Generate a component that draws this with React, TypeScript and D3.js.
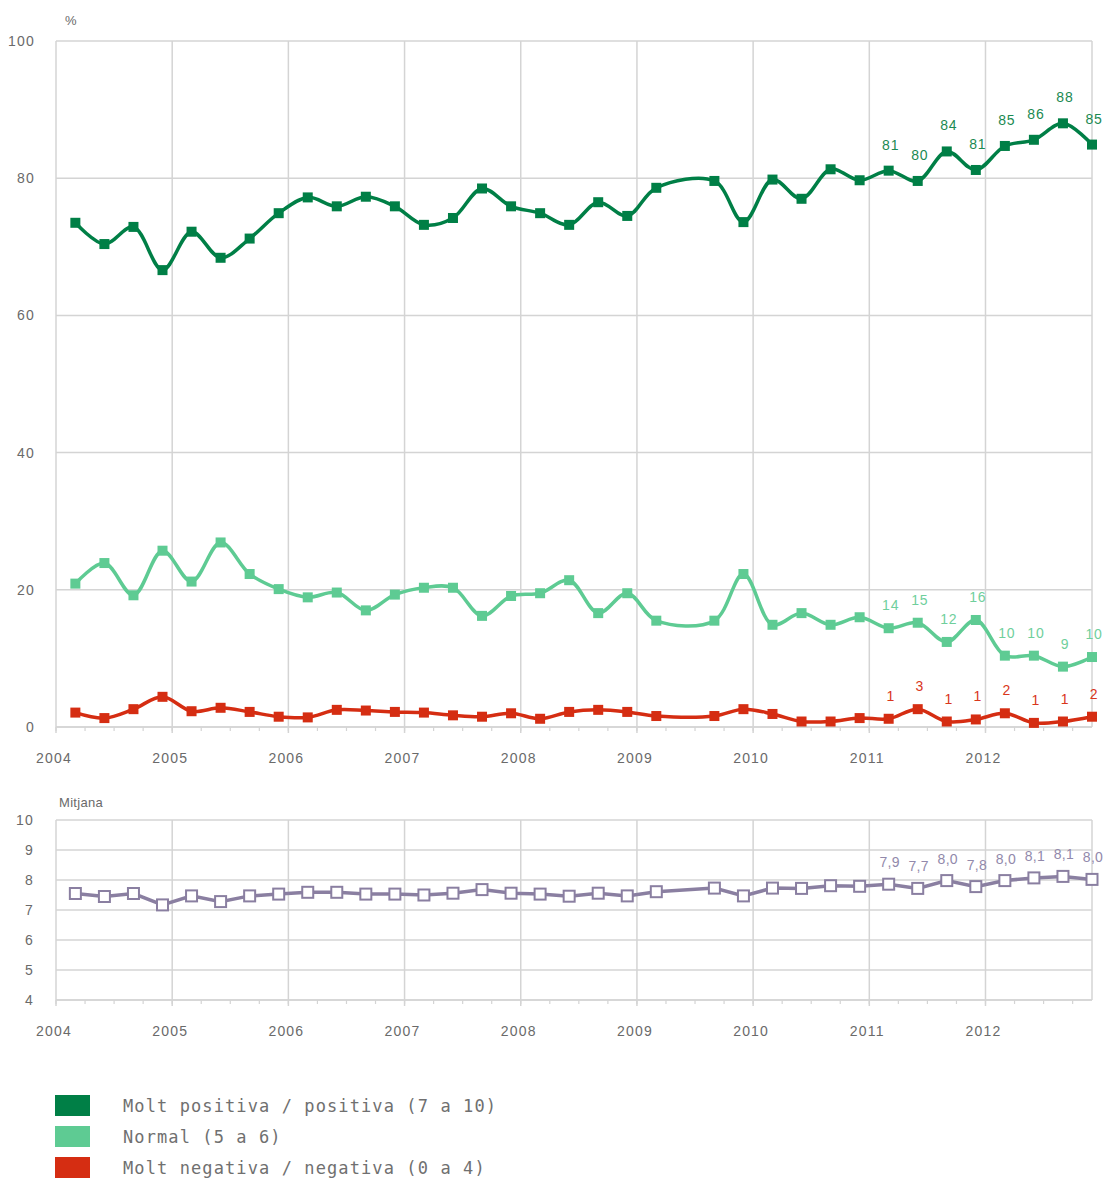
import React from "react";
import * as d3 from "d3";

const waves = [
  "2004-03","2004-06","2004-09","2004-12",
  "2005-03","2005-06","2005-09","2005-12",
  "2006-03","2006-06","2006-09","2006-12",
  "2007-03","2007-06","2007-09","2007-12",
  "2008-03","2008-06","2008-09","2008-12",
  "2009-03","2009-09","2009-12",
  "2010-03","2010-06","2010-09","2010-12",
  "2011-03","2011-06","2011-09","2011-12",
  "2012-03","2012-06","2012-09","2012-12",
];

const positive = [73.5,70.4,72.9,66.6,72.2,68.4,71.2,74.9,77.2,75.9,77.3,75.9,
  73.2,74.2,78.5,75.9,74.9,73.2,76.5,74.5,78.6,
  79.6,73.6,79.8,77.0,81.3,79.7,
  81.1,79.6,83.9,81.2,84.7,85.6,88.0,84.9];
const normal = [20.9,23.9,19.2,25.7,21.2,26.9,22.3,20.1,18.9,19.6,17.0,19.3,
  20.3,20.3,16.2,19.1,19.5,21.4,16.6,19.5,15.5,
  15.5,22.3,14.9,16.6,14.9,16.0,
  14.4,15.2,12.4,15.6,10.4,10.4,8.8,10.2];
const negative = [2.1,1.3,2.6,4.4,2.3,2.8,2.2,1.5,1.4,2.5,2.4,2.2,
  2.1,1.7,1.5,2.0,1.2,2.2,2.5,2.2,1.6,
  1.6,2.6,1.9,0.8,0.8,1.3,
  1.2,2.6,0.8,1.1,2.0,0.6,0.8,1.5];
const mean = [7.55,7.45,7.55,7.17,7.47,7.28,7.47,7.53,7.59,7.59,7.53,7.53,
  7.5,7.56,7.68,7.56,7.53,7.46,7.56,7.47,7.61,
  7.73,7.47,7.73,7.72,7.81,7.79,
  7.86,7.72,7.98,7.78,7.98,8.07,8.12,8.02];

const years = [2004,2005,2006,2007,2008,2009,2010,2011,2012];
const pctTicks = [0,20,40,60,80,100];
const meanTicks = [4,5,6,7,8,9,10];
const labelFrom = 27;

const seriesNames = [
  "Molt positiva / positiva (7 a 10)",
  "Normal (5 a 6)",
  "Molt negativa / negativa (0 a 4)",
];
const colors = ["#007f46", "#5ecb93", "#d52d12"];
const labelColors = ["#1b8a52", "#6fcf9c", "#d9361c"];
const labelOffsets = [21, 18, 18];
const meanColor = "#8a7fa1";
const meanLabelColor = "#9289ab";
const gridColor = "#d4d4d4";
const textColor = "#6a6a6a";

const toYear = (s: string) => {
  const [y, m] = s.split("-").map(Number);
  return y + (m - 1) / 12;
};
const t = waves.map(toYear);

export default function App() {
  const W = 1107, H = 1178;
  const x = d3.scaleLinear().domain([2004, toYear("2012-12")]).range([56, 1092]);
  const y1 = d3.scaleLinear().domain([0, 100]).range([727, 41]);
  const y2 = d3.scaleLinear().domain([4, 10]).range([1000, 820]);

  const quarters: number[] = [];
  for (let q = 2004; q <= toYear("2012-12") + 0.001; q += 0.25) quarters.push(q);

  const smooth = (vals: number[]) =>
    d3.line<number>().x((_, i) => x(t[i])).y((v) => y1(v)).curve(d3.curveCatmullRom.alpha(0.5))(vals) || "";
  const straight = d3.line<number>().x((_, i) => x(t[i])).y((v) => y2(v))(mean) || "";

  const fontTick = { fontFamily: "Liberation Sans, Arial, sans-serif", fontSize: 14, letterSpacing: 1.2, fill: textColor } as const;

  const xAxis = (y0: number, yTop: number) => (
    <g>
      {years.map((yr) => (
        <line key={"v" + yr} x1={x(yr)} x2={x(yr)} y1={yTop} y2={y0 + 6} stroke={gridColor} strokeWidth={1.5} />
      ))}
      <line x1={x.range()[1]} x2={x.range()[1]} y1={yTop} y2={y0} stroke={gridColor} strokeWidth={1.5} />
      {quarters.map((q, i) => (
        <line key={"q" + i} x1={x(q)} x2={x(q)} y1={y0} y2={y0 + 4} stroke={gridColor} strokeWidth={1.2} />
      ))}
      <line x1={x.range()[0]} x2={x.range()[1]} y1={y0} y2={y0} stroke={gridColor} strokeWidth={1.5} />
      {years.map((yr) => (
        <text key={"l" + yr} x={x(yr) - 2} y={y0 + 36} textAnchor="middle" {...fontTick}>{yr}</text>
      ))}
    </g>
  );

  const allSeries = [positive, normal, negative];

  return (
    <svg width={W} height={H} style={{ position: "absolute", left: 0, top: 0, background: "#fff" }}>
      {/* Top chart */}
      <text x={65} y={25} {...fontTick} fontSize={13}>%</text>
      {pctTicks.map((v) => (
        <g key={"p" + v}>
          <line x1={56} x2={1092} y1={y1(v)} y2={y1(v)} stroke={gridColor} strokeWidth={1.5} />
          <text x={35} y={y1(v) + 5} textAnchor="end" {...fontTick}>{v}</text>
        </g>
      ))}
      {xAxis(y1(0), y1(100))}
      {allSeries.map((vals, si) => (
        <g key={"s" + si}>
          <path d={smooth(vals)} fill="none" stroke={colors[si]} strokeWidth={3.5} />
          {vals.map((v, i) => (
            <rect key={i} x={x(t[i]) - 5} y={y1(v) - 5} width={10} height={10} fill={colors[si]} />
          ))}
        </g>
      ))}
      {allSeries.map((vals, si) => (
        <g key={"lab" + si}>
          {vals.map((v, i) =>
            i >= labelFrom ? (
              <text key={i} x={x(t[i]) + 2} y={y1(v) - labelOffsets[si]} textAnchor="middle"
                fontFamily="Liberation Sans, Arial, sans-serif" fontSize={14} letterSpacing={0.8} fill={labelColors[si]}>
                {Math.round(v)}
              </text>
            ) : null
          )}
        </g>
      ))}

      {/* Bottom chart */}
      <text x={59} y={807} {...fontTick} fontSize={13} letterSpacing={0.3}>Mitjana</text>
      {meanTicks.map((v) => (
        <g key={"m" + v}>
          <line x1={56} x2={1092} y1={y2(v)} y2={y2(v)} stroke={gridColor} strokeWidth={1.5} />
          <text x={34} y={y2(v) + 5} textAnchor="end" {...fontTick}>{v}</text>
        </g>
      ))}
      {xAxis(y2(4), y2(10))}
      <path d={straight} fill="none" stroke={meanColor} strokeWidth={3.5} />
      {mean.map((v, i) => (
        <rect key={"mr" + i} x={x(t[i]) - 5.5} y={y2(v) - 5.5} width={11} height={11} fill="#fff" stroke={meanColor} strokeWidth={2} />
      ))}
      {mean.map((v, i) =>
        i >= labelFrom ? (
          <text key={"ml" + i} x={x(t[i]) + 1} y={y2(v) - 17} textAnchor="middle"
            fontFamily="Liberation Sans, Arial, sans-serif" fontSize={14} letterSpacing={0.3} fill={meanLabelColor}>
            {v.toFixed(1).replace(".", ",")}
          </text>
        ) : null
      )}

      {/* Legend */}
      {seriesNames.map((name, i) => (
        <g key={"lg" + i}>
          <rect x={55} y={1095 + i * 31} width={35} height={21} fill={colors[i]} />
          <text x={123} y={1112 + i * 31} fontFamily="DejaVu Sans Mono, Liberation Mono, monospace" fontSize={17}
            letterSpacing={1.1} fill="#707070">{name}</text>
        </g>
      ))}
    </svg>
  );
}
